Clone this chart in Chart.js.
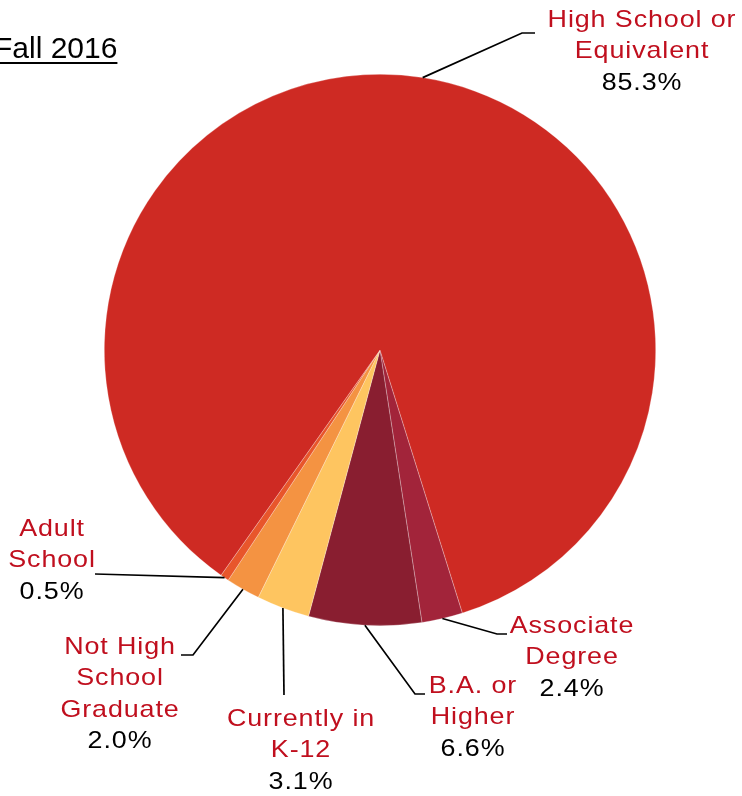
<!DOCTYPE html>
<html>
<head>
<meta charset="utf-8">
<script src="https://cdn.jsdelivr.net/npm/chart.js@4.4.0/dist/chart.umd.min.js"></script>
<style>
	html, body { margin: 0; padding: 0; background: #fff; }
	#wrap { position: relative; width: 742px; height: 796px; overflow: hidden; }
	#title { position: absolute; left: -6px; top: 31px; font: 30px 'Liberation Sans', Arial, sans-serif; color: #000; text-decoration: underline; text-decoration-thickness: 2px; text-underline-offset: 4px; }
</style>
</head>
<body>
<div id="wrap">
	<canvas id="pie" width="742" height="796"></canvas>
	<div id="title">Fall 2016</div>
</div>
<script>
(function () {
	'use strict';

	const categories = [
		['Associate', 'Degree'],
		['B.A. or', 'Higher'],
		['Currently in', 'K-12'],
		['Not High', 'School', 'Graduate'],
		['Adult', 'School'],
		['High School or', 'Equivalent']
	];
	const shares = [2.4, 6.6, 3.1, 2.0, 0.5, 85.3];
	const sliceColors = ['#a2243a', '#891e30', '#fec560', '#f49342', '#e8562b', '#ce2a23'];

	// leader line elbows / ends and label centres (layout only)
	const labelLayout = [
		{ elbow: [497, 634], end: [507, 634], text: [572, 626] },
		{ elbow: [415, 694], end: [425, 694], text: [473, 686] },
		{ elbow: [284, 695], end: [284, 695], text: [301, 719] },
		{ elbow: [193, 655], end: [181, 655], text: [120, 647] },
		{ elbow: [95, 574], end: [95, 574], text: [52, 529] },
		{ elbow: [522, 33], end: [535, 33], text: [642, 20] }
	];

	const font = "'Liberation Sans', Arial, sans-serif";
	const lineH = 31.5;
	const stretch = 1.12;

	function wideText(c, t, x, y) {
		c.save();
		c.translate(x, y);
		c.scale(stretch, 1);
		c.fillText(t, 0, 0);
		c.restore();
	}

	const calloutPlugin = {
		id: 'callouts',
		afterDatasetsDraw(chart) {
			const c = chart.ctx;
			const arcs = chart.getDatasetMeta(0).data;
			c.save();
			arcs.forEach(function(arc, i) {
				const p = arc.getProps(['x', 'y', 'startAngle', 'endAngle', 'outerRadius'], true);
				const mid = (p.startAngle + p.endAngle) / 2;
				const sx = p.x + Math.cos(mid) * p.outerRadius;
				const sy = p.y + Math.sin(mid) * p.outerRadius;
				const lay = labelLayout[i];

				c.strokeStyle = '#000';
				c.lineWidth = 1.7;
				c.beginPath();
				c.moveTo(sx, sy);
				c.lineTo(lay.elbow[0], lay.elbow[1]);
				c.lineTo(lay.end[0], lay.end[1]);
				c.stroke();

				c.font = '24px ' + font;
				c.letterSpacing = '0.8px';
				c.textAlign = 'center';
				c.textBaseline = 'middle';
				const lines = categories[i];
				c.fillStyle = '#c00f1e';
				lines.forEach(function(t, k) {
					wideText(c, t, lay.text[0], lay.text[1] + k * lineH);
				});
				c.fillStyle = '#000';
				wideText(c, shares[i].toFixed(1) + '%', lay.text[0], lay.text[1] + lines.length * lineH);
			});
			c.restore();
		}
	};

	new Chart(document.getElementById('pie'), {
		type: 'pie',
		data: {
			labels: categories.map(function(l) { return l.join(' '); }),
			datasets: [{
				data: shares,
				backgroundColor: sliceColors,
				borderColor: 'rgba(255,255,255,0.45)',
				borderWidth: 0.6
			}]
		},
		options: {
			responsive: false,
			animation: false,
			rotation: 162.6,
			layout: {
				padding: { left: 104, right: 86, top: 74, bottom: 170 }
			},
			plugins: {
				legend: { display: false },
				tooltip: { enabled: false }
			}
		},
		plugins: [calloutPlugin]
	});
})();
</script>
</body>
</html>
